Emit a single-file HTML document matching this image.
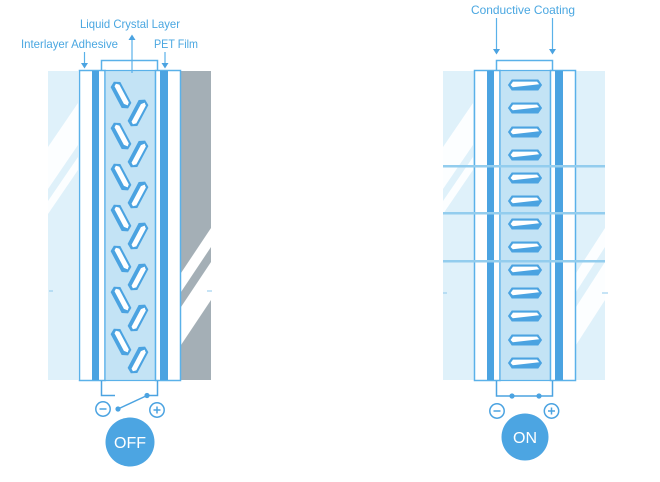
<!DOCTYPE html>
<html><head><meta charset="utf-8">
<style>
html,body{margin:0;padding:0;background:#fff;}
svg{display:block;}
text{font-family:"Liberation Sans",sans-serif;}
</style></head>
<body>
<svg width="660" height="482" viewBox="0 0 660 482" xmlns="http://www.w3.org/2000/svg">
<defs>
  <g id="lcA">
    <polygon points="-14.5,0 -11.5,-5 11.5,-5 14.5,0 11.5,5 -11.5,5" fill="#4ba3e1"/>
    <polygon points="-12.3,-0.8 -10,-3.4 10.2,-3.4 12.3,-1 9.2,1.6 -10.8,1.6" fill="#fff"/>
    <polygon points="-14.5,0 -11.5,-5 11.5,-5 14.5,0 11.5,5 -11.5,5" fill="none" stroke="#4ba3e1" stroke-width="1"/>
  </g>
  <g id="lcB">
    <polygon points="-16.5,0 -13,-5 13,-5 16.5,0 13,5 -13,5" fill="#4ba3e1"/>
    <polygon points="-14.4,0 -12,-3.4 12,-3.4 14.2,-0.8 -12.2,2.2" fill="#fff"/>
    <polygon points="-16.5,0 -13,-5 13,-5 16.5,0 13,5 -13,5" fill="none" stroke="#4ba3e1" stroke-width="1"/>
  </g>
</defs>

<!-- ============ LEFT DIAGRAM (OFF) ============ -->
<rect x="48" y="71" width="30" height="309" fill="#dff1fa"/>
<polygon points="78,103 78,145 48,189 48,147" fill="#fff" opacity="0.9"/>
<polygon points="78,157 78,170 48,214 48,201" fill="#fff" opacity="0.9"/>
<rect x="181" y="71" width="30" height="309" fill="#a4afb6"/>
<polygon points="211,228 211,247 181,292 181,273" fill="#fff"/>
<polygon points="211,262 211,300 181,345 181,307" fill="#fff"/>
<line x1="49" y1="291" x2="53" y2="291" stroke="#8fc9ec" stroke-width="1"/>
<line x1="207" y1="291" x2="212" y2="291" stroke="#8fc9ec" stroke-width="1"/>

<path d="M101.5,71 V60.5 H157.5 V71" fill="#fff" stroke="#5ab1e9" stroke-width="1.5"/>
<rect x="79.5" y="70.5" width="25.5" height="310" fill="#fff" stroke="#5ab1e9" stroke-width="1.5"/>
<rect x="92" y="71" width="7" height="309" fill="#4ba3e1"/>
<rect x="105" y="70.5" width="50.5" height="310" fill="#c3e3f5" stroke="#5ab1e9" stroke-width="1.2"/>
<rect x="155.5" y="70.5" width="25" height="310" fill="#fff" stroke="#5ab1e9" stroke-width="1.5"/>
<rect x="160" y="71" width="8" height="309" fill="#4ba3e1"/>

<use href="#lcA" transform="translate(121,95) rotate(62)"/>
<use href="#lcA" transform="translate(121,136) rotate(62)"/>
<use href="#lcA" transform="translate(121,177) rotate(62)"/>
<use href="#lcA" transform="translate(121,218) rotate(62)"/>
<use href="#lcA" transform="translate(121,259) rotate(62)"/>
<use href="#lcA" transform="translate(121,300) rotate(62)"/>
<use href="#lcA" transform="translate(121,342) rotate(62)"/>
<use href="#lcA" transform="translate(138,113) rotate(-62) scale(1,-1)"/>
<use href="#lcA" transform="translate(138,154) rotate(-62) scale(1,-1)"/>
<use href="#lcA" transform="translate(138,195) rotate(-62) scale(1,-1)"/>
<use href="#lcA" transform="translate(138,236) rotate(-62) scale(1,-1)"/>
<use href="#lcA" transform="translate(138,277) rotate(-62) scale(1,-1)"/>
<use href="#lcA" transform="translate(138,318) rotate(-62) scale(1,-1)"/>
<use href="#lcA" transform="translate(138,360) rotate(-62) scale(1,-1)"/>

<text x="80" y="28" font-size="12" fill="#4aa7e1" textLength="100" lengthAdjust="spacingAndGlyphs">Liquid Crystal Layer</text>
<text x="21" y="48" font-size="12" fill="#4aa7e1" textLength="97" lengthAdjust="spacingAndGlyphs">Interlayer Adhesive</text>
<text x="154" y="48" font-size="12" fill="#4aa7e1" textLength="44" lengthAdjust="spacingAndGlyphs">PET Film</text>
<line x1="132" y1="39" x2="132" y2="73" stroke="#5ab1e9" stroke-width="1.2"/>
<polygon points="128.5,40 135.5,40 132,34.5" fill="#4ba3e1"/>
<line x1="84.5" y1="52" x2="84.5" y2="64" stroke="#5ab1e9" stroke-width="1.2"/>
<polygon points="81,63 88,63 84.5,68.5" fill="#4ba3e1"/>
<line x1="165" y1="52" x2="165" y2="64" stroke="#5ab1e9" stroke-width="1.2"/>
<polygon points="161.5,63 168.5,63 165,68.5" fill="#4ba3e1"/>

<path d="M101.5,381 V395.5 H115" fill="none" stroke="#4ba3e1" stroke-width="1.5"/>
<path d="M157.5,381 V395.5 H147" fill="none" stroke="#4ba3e1" stroke-width="1.5"/>
<line x1="147" y1="395.5" x2="118" y2="409" stroke="#4ba3e1" stroke-width="1.5"/>
<circle cx="147" cy="395.5" r="2.6" fill="#4ba3e1"/>
<circle cx="118" cy="409" r="2.6" fill="#4ba3e1"/>
<circle cx="103" cy="409" r="7.2" fill="#fff" stroke="#4ba3e1" stroke-width="1.5"/>
<line x1="99.5" y1="409" x2="106.5" y2="409" stroke="#4ba3e1" stroke-width="1.5"/>
<circle cx="157" cy="410" r="7.2" fill="#fff" stroke="#4ba3e1" stroke-width="1.5"/>
<line x1="153.5" y1="410" x2="160.5" y2="410" stroke="#4ba3e1" stroke-width="1.5"/>
<line x1="157" y1="406.5" x2="157" y2="413.5" stroke="#4ba3e1" stroke-width="1.5"/>
<circle cx="130" cy="442" r="24.5" fill="#4ca5e2"/>
<text x="130" y="448" font-size="16" fill="#fff" text-anchor="middle">OFF</text>

<!-- ============ RIGHT DIAGRAM (ON) ============ -->
<rect x="443" y="71" width="162" height="309" fill="#dff1fa"/>
<polygon points="473,103 473,145 443,189 443,147" fill="#fff" opacity="0.9"/>
<polygon points="473,157 473,170 443,214 443,201" fill="#fff" opacity="0.9"/>
<polygon points="605,228 605,247 576,292 576,273" fill="#fff" opacity="0.9"/>
<polygon points="605,262 605,300 576,345 576,307" fill="#fff" opacity="0.9"/>
<line x1="443" y1="293" x2="447" y2="293" stroke="#8fc9ec" stroke-width="1"/>
<line x1="602" y1="293" x2="608" y2="293" stroke="#8fc9ec" stroke-width="1"/>

<g transform="translate(395,0)">
<path d="M101.5,71 V60.5 H157.5 V71" fill="#fff" stroke="#5ab1e9" stroke-width="1.5"/>
<rect x="79.5" y="70.5" width="25.5" height="310" fill="#fff" stroke="#5ab1e9" stroke-width="1.5"/>
<rect x="92" y="71" width="7" height="309" fill="#4ba3e1"/>
<rect x="105" y="70.5" width="50.5" height="310" fill="#c3e3f5" stroke="#5ab1e9" stroke-width="1.2"/>
<rect x="155.5" y="70.5" width="25" height="310" fill="#fff" stroke="#5ab1e9" stroke-width="1.5"/>
<rect x="160" y="71" width="8" height="309" fill="#4ba3e1"/>
</g>

<rect x="443" y="165" width="162" height="2.5" fill="#93cdee"/>
<rect x="443" y="212" width="162" height="2.5" fill="#93cdee"/>
<rect x="443" y="260" width="162" height="2.5" fill="#93cdee"/>

<use href="#lcB" transform="translate(525,85)"/>
<use href="#lcB" transform="translate(525,108)"/>
<use href="#lcB" transform="translate(525,132)"/>
<use href="#lcB" transform="translate(525,155)"/>
<use href="#lcB" transform="translate(525,178)"/>
<use href="#lcB" transform="translate(525,201)"/>
<use href="#lcB" transform="translate(525,224)"/>
<use href="#lcB" transform="translate(525,247)"/>
<use href="#lcB" transform="translate(525,270)"/>
<use href="#lcB" transform="translate(525,293)"/>
<use href="#lcB" transform="translate(525,316)"/>
<use href="#lcB" transform="translate(525,340)"/>
<use href="#lcB" transform="translate(525,363)"/>

<text x="471" y="14" font-size="12" fill="#4aa7e1" textLength="104" lengthAdjust="spacingAndGlyphs">Conductive Coating</text>
<line x1="496.5" y1="18" x2="496.5" y2="50" stroke="#5ab1e9" stroke-width="1.2"/>
<polygon points="493,49 500,49 496.5,54.5" fill="#4ba3e1"/>
<line x1="552.5" y1="18" x2="552.5" y2="50" stroke="#5ab1e9" stroke-width="1.2"/>
<polygon points="549,49 556,49 552.5,54.5" fill="#4ba3e1"/>

<path d="M496.5,381 V396 H552.5 V381" fill="none" stroke="#4ba3e1" stroke-width="1.5"/>
<circle cx="512" cy="396" r="2.6" fill="#4ba3e1"/>
<circle cx="539" cy="396" r="2.6" fill="#4ba3e1"/>
<circle cx="497" cy="411" r="7.2" fill="#fff" stroke="#4ba3e1" stroke-width="1.5"/>
<line x1="493.5" y1="411" x2="500.5" y2="411" stroke="#4ba3e1" stroke-width="1.5"/>
<circle cx="551.5" cy="411" r="7.2" fill="#fff" stroke="#4ba3e1" stroke-width="1.5"/>
<line x1="548" y1="411" x2="555" y2="411" stroke="#4ba3e1" stroke-width="1.5"/>
<line x1="551.5" y1="407.5" x2="551.5" y2="414.5" stroke="#4ba3e1" stroke-width="1.5"/>
<circle cx="525" cy="437" r="23.5" fill="#4ca5e2"/>
<text x="525" y="443" font-size="16" fill="#fff" text-anchor="middle">ON</text>
</svg>
</body></html>
